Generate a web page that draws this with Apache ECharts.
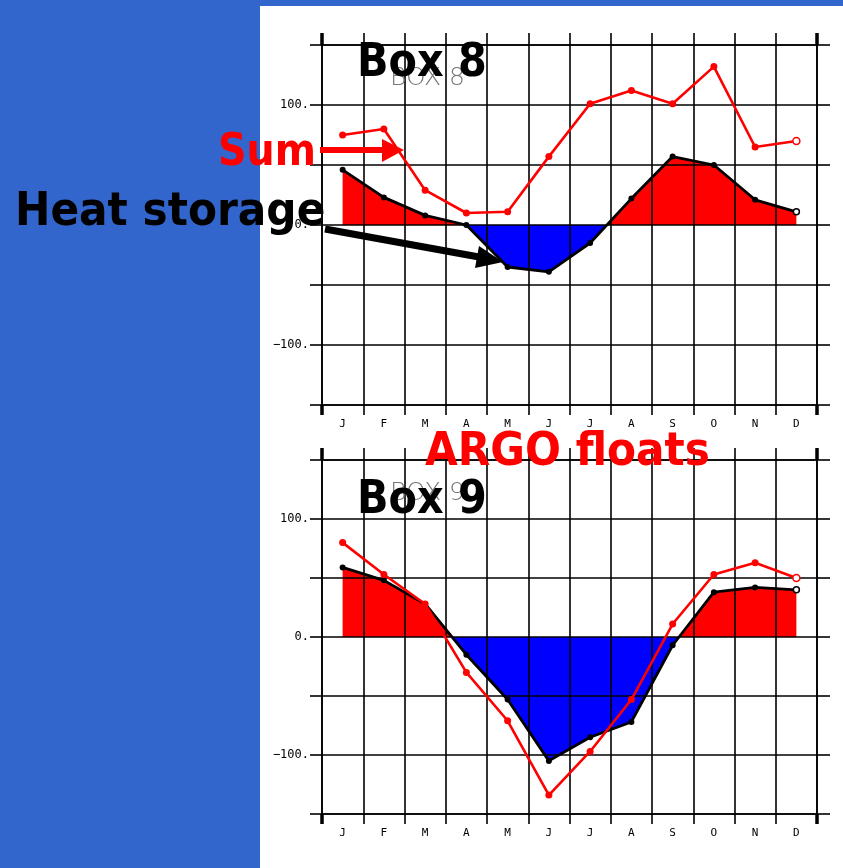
<!DOCTYPE html>
<html>
<head>
<meta charset="utf-8">
<script src="https://cdn.jsdelivr.net/npm/echarts@6/dist/echarts.min.js"></script>
<style>
  html, body { margin: 0; padding: 0; background: #3366cc; }
  #chart { width: 843px; height: 868px; }
</style>
</head>
<body>
<div id="chart"></div>
<script>
// months along the x axis
const months = ['J', 'F', 'M', 'A', 'M', 'J', 'J', 'A', 'S', 'O', 'N', 'D'];
// y tick values that carry a label
const yLabelValues = [-100, 0, 100];

// Box 8: heat storage and sum
const box8Heat = [46, 23, 8, 0, -35, -39, -15, 22, 57, 50, 21, 11];
const box8Sum = [75, 80, 29, 10, 11, 57, 101, 112, 101, 132, 65, 70];

// Box 9
const box9Heat = [59, 48, 28, -15, -53, -105, -85, -72, -7, 38, 42, 40];
const box9Sum = [80, 53, 28, -30, -71, -134, -97, -53, 11, 53, 63, 50];

const chart = echarts.init(document.getElementById('chart'));

const ink = '#000';
const gridW = 1.6;
const tickFont = '"DejaVu Sans Mono", monospace';
const bigFont = '"DejaVu Sans Condensed", "DejaVu Sans", sans-serif';

function xAxesFor(g) {
  return [
    {
      type: 'category', gridIndex: g, data: months, boundaryGap: true, position: 'bottom', z: 3,
      axisLine: { show: true, onZero: false, lineStyle: { color: ink, width: gridW } },
      axisTick: { show: true, length: 10, lineStyle: { color: ink, width: gridW } },
      axisLabel: { margin: 14, fontSize: 11, color: ink, fontFamily: tickFont },
      splitLine: { show: true, lineStyle: { color: ink, width: gridW } }
    },
    {
      type: 'category', gridIndex: g, data: months, boundaryGap: true, position: 'top', z: 3,
      axisLine: { show: true, onZero: false, lineStyle: { color: ink, width: gridW } },
      axisTick: { show: true, length: 12, lineStyle: { color: ink, width: gridW } },
      axisLabel: { show: false },
      splitLine: { show: false }
    },
    // heavier end ticks
    {
      type: 'value', gridIndex: g, min: 0, max: 1, interval: 1, position: 'bottom', z: 3,
      axisLine: { show: false, onZero: false },
      axisTick: { show: true, length: 10, lineStyle: { color: ink, width: 3.5 } },
      axisLabel: { show: false }, splitLine: { show: false }
    },
    {
      type: 'value', gridIndex: g, min: 0, max: 1, interval: 1, position: 'top', z: 3,
      axisLine: { show: false, onZero: false },
      axisTick: { show: true, length: 12, lineStyle: { color: ink, width: 3.5 } },
      axisLabel: { show: false }, splitLine: { show: false }
    }
  ];
}

function yAxesFor(g) {
  return [
    {
      type: 'value', gridIndex: g, min: -150, max: 150, interval: 50, position: 'left', z: 3,
      axisLine: { show: true, onZero: false, lineStyle: { color: ink, width: gridW } },
      axisTick: { show: true, length: 12, lineStyle: { color: ink, width: gridW } },
      axisLabel: {
        margin: 13, fontSize: 12, color: ink, fontFamily: tickFont,
        formatter: v => yLabelValues.includes(v) ? String(v).replace('-', '\u2212') + '.' : ''
      },
      splitLine: { show: true, lineStyle: { color: ink, width: gridW } }
    },
    {
      type: 'value', gridIndex: g, min: -150, max: 150, interval: 50, position: 'right', z: 3,
      axisLine: { show: true, onZero: false, lineStyle: { color: ink, width: gridW } },
      axisTick: { show: true, length: 13, lineStyle: { color: ink, width: gridW } },
      axisLabel: { show: false }, splitLine: { show: false }
    }
  ];
}

// last point of each line is drawn hollow
function withHollowEnd(values, color) {
  return values.map((v, i) => i === values.length - 1
    ? { value: v, itemStyle: { color: '#fff', borderColor: color, borderWidth: 1.5 } }
    : v);
}

function seriesFor(g, heat, sum) {
  const xi = g * 4, yi = g * 2;
  return [
    {
      type: 'line', xAxisIndex: xi, yAxisIndex: yi, data: heat, symbol: 'none', silent: true,
      lineStyle: { width: 0, opacity: 0 }, areaStyle: { opacity: 1 }, z: 1
    },
    {
      type: 'line', xAxisIndex: xi, yAxisIndex: yi, data: withHollowEnd(heat, '#000'),
      symbol: 'circle', symbolSize: 6, itemStyle: { color: '#000' },
      lineStyle: { color: '#000', width: 2.8 }, z: 6
    },
    {
      type: 'line', xAxisIndex: xi, yAxisIndex: yi, data: withHollowEnd(sum, '#ff0000'),
      symbol: 'circle', symbolSize: 7, itemStyle: { color: '#ff0000' },
      lineStyle: { color: '#ff0000', width: 2.6 }, z: 7
    }
  ];
}

function bigText(text, x, baseline, size, color) {
  return {
    type: 'text', x: x, y: baseline - size * 0.3, z: 100,
    style: { text: text, fill: color, font: 'bold ' + size + 'px ' + bigFont, textAlign: 'left', textVerticalAlign: 'middle' }
  };
}

const option = {
  backgroundColor: '#3366cc',
  animation: false,
  grid: [
    { left: 322, top: 45, width: 495, height: 360 },
    { left: 322, top: 460, width: 495, height: 354 }
  ],
  xAxis: xAxesFor(0).concat(xAxesFor(1)),
  yAxis: yAxesFor(0).concat(yAxesFor(1)),
  visualMap: [0, 3].map(si => ({
    type: 'piecewise', show: false, seriesIndex: si, dimension: 1,
    pieces: [{ gte: -1000, lt: 0, color: '#0000ff' }, { gte: 0, lte: 1000, color: '#ff0000' }]
  })),
  series: seriesFor(0, box8Heat, box8Sum).concat(seriesFor(1, box9Heat, box9Sum)),
  graphic: [
    { type: 'rect', z: -10, shape: { x: 260, y: 6, width: 583, height: 862 }, style: { fill: '#fff' } },
    // faint original titles
    { type: 'text', x: 390, y: 78, z: 4, style: { text: 'BOX 8', fill: '#777', font: '200 25px "DejaVu Sans", sans-serif', textVerticalAlign: 'middle' } },
    { type: 'text', x: 390, y: 493, z: 4, style: { text: 'BOX 9', fill: '#777', font: '200 25px "DejaVu Sans", sans-serif', textVerticalAlign: 'middle' } },
    bigText('Box 8', 357, 78, 46, '#000'),
    bigText('Sum', 218, 167, 44, '#ff0000'),
    bigText('Heat storage', 15, 227, 47, '#000'),
    bigText('ARGO floats', 425, 467, 47, '#ff0000'),
    bigText('Box 9', 357, 515, 46, '#000'),
    // Sum arrow
    { type: 'line', z: 100, shape: { x1: 320, y1: 150, x2: 385, y2: 150 }, style: { stroke: '#ff0000', lineWidth: 6 } },
    { type: 'polygon', z: 100, shape: { points: [[382, 139], [404, 150], [382, 162]] }, style: { fill: '#ff0000' } },
    // Heat storage arrow
    { type: 'line', z: 100, shape: { x1: 325, y1: 229, x2: 479, y2: 257 }, style: { stroke: '#000', lineWidth: 7 } },
    { type: 'polygon', z: 100, shape: { points: [[479, 246], [503, 262], [475, 268]] }, style: { fill: '#000' } }
  ]
};

chart.setOption(option);
</script>
</body>
</html>
